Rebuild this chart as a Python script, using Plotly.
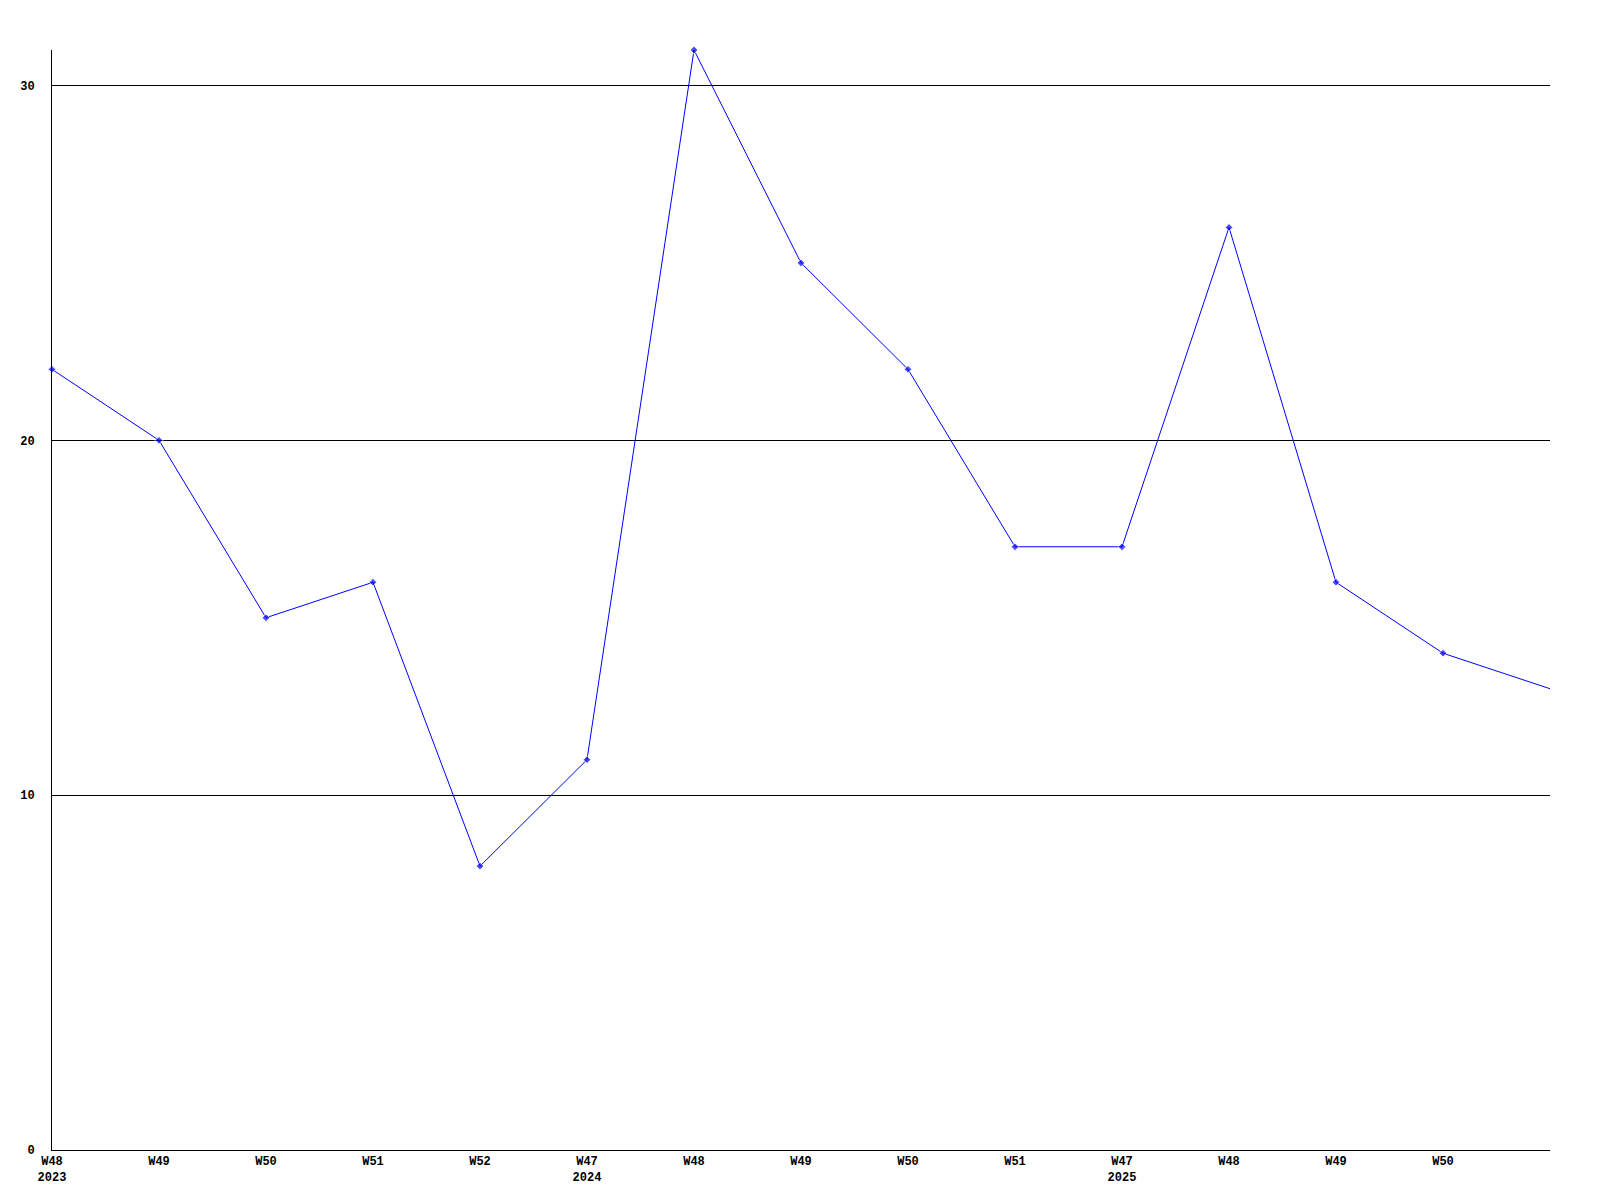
import plotly.graph_objects as go

# weekly counts, one point per ISO week
weeks = ["W48", "W49", "W50", "W51", "W52", "W47", "W48", "W49", "W50",
         "W51", "W47", "W48", "W49", "W50", ""]
years = ["2023", "", "", "", "", "2024", "", "", "", "", "2025", "", "", "", ""]
counts = [22, 20, 15, 16, 8, 11, 31, 25, 22, 17, 17, 26, 16, 14, 13]

y_ticks = [0, 10, 20, 30]

x = list(range(len(counts)))
tick_text = [w + ("<br>" + y if y else "") for w, y in zip(weeks, years)]

TICK_FONT = dict(family="Liberation Mono", size=12, color="#000000", weight="bold")

fig = go.Figure()
fig.add_trace(go.Scatter(
    x=x, y=counts,
    mode="lines+markers",
    line=dict(color="#0000FF", width=1),
    marker=dict(symbol="diamond", color="#0000FF",
                size=[6] * (len(counts) - 1) + [0]),
    cliponaxis=False,
    hoverinfo="x+y",
))

# page body has an 8px margin, so plot margins are shifted to compensate
fig.update_layout(
    width=1600, height=1200,
    paper_bgcolor="white", plot_bgcolor="white",
    margin=dict(l=42, r=58, t=42, b=58),
    showlegend=False,
)
fig.update_xaxes(
    range=[0, len(counts) - 1],
    tickmode="array", tickvals=x, ticktext=tick_text,
    showgrid=False, zeroline=False,
    showline=True, linecolor="#000000", linewidth=1,
    ticks="", tickangle=0,
    tickfont=TICK_FONT,
)
fig.update_yaxes(
    range=[0, 31],
    tickmode="array", tickvals=y_ticks,
    showgrid=True, gridcolor="#000000", gridwidth=1,
    zeroline=False,
    showline=True, linecolor="#000000", linewidth=1,
    ticks="", ticklabelstandoff=14,
    tickfont=TICK_FONT,
)

fig.write_html("out.html")
